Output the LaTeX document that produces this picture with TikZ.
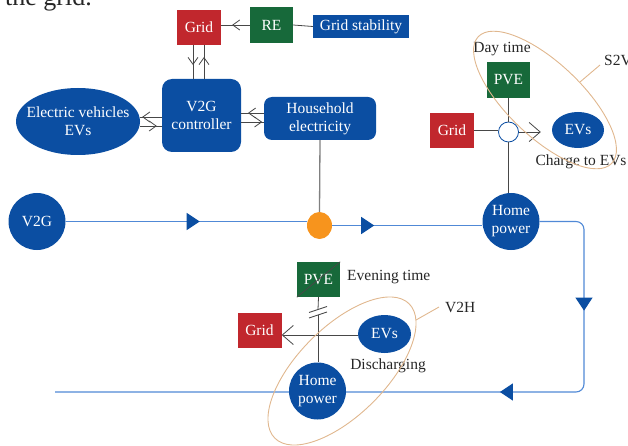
\documentclass[tikz,border=0pt]{standalone}
\usepackage{fontspec}
\setmainfont{Liberation Serif}
\usepackage{tikz}
\usetikzlibrary{arrows.meta,positioning,calc,shapes.geometric,decorations.markings}
\definecolor{VtgBlue}{HTML}{0B4EA2}
\definecolor{VtgFlow}{HTML}{5089D6}
\definecolor{VtgRed}{HTML}{C1272D}
\definecolor{VtgGreen}{HTML}{17693A}
\definecolor{VtgOrange}{HTML}{F7941D}
\definecolor{VtgTan}{HTML}{E0B78E}
\definecolor{VtgLine}{HTML}{474747}

\begin{document}
\begin{tikzpicture}[x=1pt,y=-1pt,
  every node/.style={font=\fontsize{15.5}{18}\selectfont, align=center, inner sep=0pt, text=black!85},
  bluebox/.style={fill=VtgBlue, text=white},
  redbox/.style={fill=VtgRed, text=white, minimum width=44pt, minimum height=35pt},
  greenbox/.style={fill=VtgGreen, text=white, minimum width=43pt, minimum height=36pt},
  bluedisc/.style={circle, fill=VtgBlue, text=white, minimum size=57pt},
  link/.style={draw=VtgLine, line width=0.8pt},
  flow/.style={draw=VtgFlow, line width=1.1pt},
  zone/.style={ellipse, draw=VtgTan, line width=0.9pt},
  zoneline/.style={draw=VtgTan, line width=0.9pt},
  tipat/.style={postaction={decorate, decoration={markings,
      mark=at position #1 with {\arrow{Straight Barb[length=7pt,width=10pt]}}}}},
  flowtip/.style={postaction={decorate, decoration={markings,
      mark=at position #1 with {\arrow[VtgBlue]{Triangle[length=13pt,width=17pt]}}}}},
  bigtip/.style={-{Straight Barb[length=11pt,width=19pt]}},
]
  \useasboundingbox (0,0) rectangle (628,446);
  \clip (0,0) rectangle (628,446);

  % text cut off at the top
  \node[anchor=base east, font=\fontsize{26}{28}\selectfont] (topline) at (92,6) {for the grid.};

  % controller part
  \node[redbox] (gridtop) at (199,27.5) {Grid};
  \node[greenbox] (retop) at (271.5,25) {RE};
  \node[bluebox, minimum width=96pt, minimum height=23pt] (stability) at (361,26.5) {Grid stability};
  \node[bluebox, rounded corners=10pt, minimum width=79pt, minimum height=73pt] (ctrl) at (201.5,115.5) {V2G\\controller};
  \node[bluebox, ellipse, inner xsep=-8pt, minimum width=124pt, minimum height=67pt] (evs) at (78,121.5) {Electric vehicles\\EVs};
  \node[bluebox, rounded corners=8pt, minimum width=112pt, minimum height=43pt] (house) at (320,118.5) {Household\\electricity};

  \draw[link] (stability.west) -- (retop.east);
  \draw[link, tipat=0.62] (retop.west) -- (retop.west -| gridtop.east);
  \draw[link, tipat=0.59] ([xshift=-6pt]gridtop.south) -- ([xshift=-6pt]gridtop.south |- ctrl.north);
  \draw[link, tipat=0.65] ([xshift=5pt]gridtop.south |- ctrl.north) -- ([xshift=5pt]gridtop.south);
  \draw[link, tipat=0.91] ([yshift=-1.5pt]ctrl.west) -- ([yshift=-1.5pt]ctrl.west -| evs.east);
  \draw[link, tipat=0.77] ([yshift=-10.5pt]ctrl.west -| evs.east) -- ([yshift=-10.5pt]ctrl.west);
  \draw[link, tipat=0.7] ([yshift=2.5pt]ctrl.east -| house.west) -- ([yshift=2.5pt]ctrl.east);
  \draw[link, tipat=0.93] ([yshift=-6.5pt]ctrl.east) -- ([yshift=-6.5pt]ctrl.east -| house.west);

  % power flow
  \node[bluedisc] (v2g) at (37,221.5) {V2G};
  \node[ellipse, fill=VtgOrange, minimum width=25pt, minimum height=27pt] (junction) at (319.5,225.5) {};
  \node[bluedisc] (homeday) at (511,221.5) {Home\\power};
  \coordinate (flowturn) at (584,392);
  \coordinate (flowend) at (55,392);

  \draw[draw=gray, line width=1.3pt] (house.south) -- (junction.north);
  \draw[flow, flowtip=134pt] (v2g.east) -- (v2g.east -| junction.west);
  \draw[flow, flowtip=42pt] (junction.east) -- (junction.east -| homeday.west);
  \draw[flow, rounded corners=8pt, flowtip=130pt, flowtip=292pt] (homeday.east) -| (flowturn) -- (flowend);

  % day time, S2V
  \node[greenbox] (pveday) at (508.5,80) {PVE};
  \node[redbox] (gridday) at (452,130.5) {Grid};
  \node[circle, draw=VtgBlue, fill=white, line width=0.8pt, minimum size=20pt] (hub) at (508.5,132) {};
  \node[bluebox, ellipse, minimum width=52pt, minimum height=36pt] (evsday) at (578,130) {EVs};
  \node (daylbl) at (502,49) {Day time};
  \node (chargelbl) at (581,161.5) {Charge to EVs};
  \node[anchor=west] (s2vlbl) at (604,60) {S2V};

  \draw[link] (gridday.east) -- (gridday.east -| hub.west);
  \draw[link] (hub.north) -- (pveday.south);
  \draw[link] (hub.south) -- (hub.south |- homeday.north);
  \draw[link, bigtip, shorten >=11pt] (hub.east) -- (hub.east -| evsday.west);

  \node[zone, rotate=-43.5, minimum width=184pt, minimum height=74pt] (s2vzone) at (545,100) {};
  \coordinate (s2vtick) at (580,82);
  \draw[zoneline] (s2vtick) -- ([shift={(-4,5)}]s2vlbl.west);

  % evening time, V2H
  \node[greenbox, minimum height=35pt] (pveeve) at (318.5,279.5) {PVE};
  \draw[link] (pveeve.south west) -- (pveeve.north east);
  \node[anchor=west] (evelbl) at (347,277) {Evening time};
  \node[redbox] (grideve) at (259.5,330.5) {Grid};
  \node[bluebox, ellipse, minimum width=53pt, minimum height=38pt] (evseve) at (384.5,334) {EVs};
  \node (dislbl) at (388,366) {Discharging};
  \node[bluedisc] (homeeve) at (317.5,391) {Home\\power};
  \node[anchor=west] (v2hlbl) at (445,307) {V2H};

  \coordinate (brka) at (318,309.5);
  \coordinate (brkb) at (318,315);
  \draw[link] (pveeve.south) -- (brka);
  \draw[link] (brkb) -- (brkb |- homeeve.north);
  \draw[link] ([shift={(-9,3)}]brka) -- ([shift={(9,-3)}]brka);
  \draw[link] ([shift={(-9,3)}]brkb) -- ([shift={(9,-3)}]brkb);
  \draw[link, bigtip] ([yshift=-1pt]evseve.west) -- ([yshift=-1pt]evseve.west -| grideve.east);

  \node[zone, rotate=45, minimum width=190pt, minimum height=88pt] (v2hzone) at (342,371) {};
  \coordinate (v2htick) at (416,320);
  \draw[zoneline] (v2htick) -- ([xshift=-6pt]v2hlbl.west);
\end{tikzpicture}
\end{document}
